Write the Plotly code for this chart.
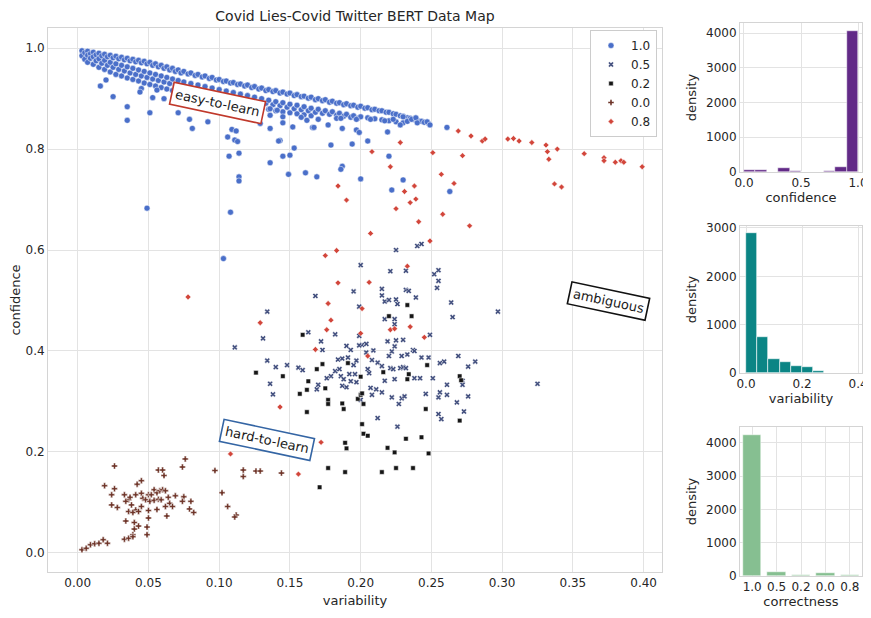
import plotly.graph_objects as go

# ---------------- data ----------------
categories = ["1.0", "0.5", "0.2", "0.0", "0.8"]

# dense "easy-to-learn" band, correctness 1.0: (variability, [confidences])
band_10 = [
    (0.003, [0.995, 0.985]), (0.005, [0.991, 0.978]), (0.007, [0.994, 0.986, 0.972]),
    (0.009, [0.989, 0.980]), (0.011, [0.992, 0.983, 0.968]), (0.013, [0.987, 0.975]),
    (0.015, [0.990, 0.979, 0.962]), (0.017, [0.985, 0.970]), (0.019, [0.988, 0.976, 0.958]),
    (0.021, [0.983, 0.966]), (0.023, [0.986, 0.972, 0.953]), (0.025, [0.981, 0.962]),
    (0.027, [0.984, 0.969, 0.948]), (0.029, [0.979, 0.958]), (0.031, [0.982, 0.966, 0.945]),
    (0.033, [0.977, 0.955]), (0.035, [0.980, 0.963, 0.941]), (0.037, [0.975, 0.951]),
    (0.039, [0.978, 0.960, 0.938]), (0.041, [0.973, 0.948]), (0.043, [0.976, 0.957, 0.935]),
    (0.045, [0.971, 0.945]), (0.047, [0.974, 0.954, 0.931]), (0.049, [0.969, 0.942]),
    (0.051, [0.972, 0.951, 0.928]), (0.053, [0.966, 0.939]), (0.055, [0.969, 0.948, 0.925]),
    (0.057, [0.963, 0.936]), (0.059, [0.966, 0.945, 0.922]), (0.061, [0.960, 0.933]),
    (0.063, [0.963, 0.942, 0.919]), (0.065, [0.957, 0.930]), (0.067, [0.960, 0.939, 0.916]),
    (0.069, [0.954, 0.927]), (0.071, [0.957, 0.936, 0.913]), (0.073, [0.951, 0.924]),
    (0.075, [0.954, 0.933, 0.910]), (0.078, [0.949, 0.921]), (0.080, [0.951, 0.930, 0.907]),
    (0.083, [0.946, 0.918]), (0.085, [0.948, 0.927, 0.904]), (0.088, [0.943, 0.915]),
    (0.090, [0.945, 0.924, 0.901]), (0.093, [0.940, 0.912]), (0.095, [0.942, 0.921, 0.898]),
    (0.098, [0.937, 0.909]), (0.100, [0.938, 0.918, 0.896]), (0.103, [0.934, 0.907]),
    (0.105, [0.935, 0.915, 0.893]), (0.108, [0.931, 0.904]), (0.110, [0.932, 0.912, 0.890]),
    (0.113, [0.928, 0.901]), (0.115, [0.929, 0.909, 0.888]), (0.118, [0.925, 0.898]),
    (0.120, [0.927, 0.906, 0.886]), (0.123, [0.922, 0.896]), (0.125, [0.924, 0.903, 0.884]),
    (0.128, [0.919, 0.893]), (0.130, [0.921, 0.900, 0.881]), (0.133, [0.916, 0.891]),
    (0.135, [0.918, 0.897, 0.879]), (0.138, [0.914, 0.888]), (0.140, [0.916, 0.894, 0.876]),
    (0.143, [0.911, 0.886]), (0.145, [0.913, 0.892, 0.874]), (0.148, [0.909, 0.883]),
    (0.150, [0.911, 0.889, 0.872]), (0.153, [0.906, 0.880]), (0.155, [0.908, 0.887, 0.870]),
    (0.158, [0.904, 0.878]), (0.160, [0.905, 0.884, 0.868]), (0.163, [0.901, 0.876]),
    (0.165, [0.903, 0.881, 0.866]), (0.168, [0.898, 0.873]), (0.170, [0.900, 0.879]),
    (0.173, [0.896, 0.871]), (0.175, [0.898, 0.876]), (0.178, [0.893, 0.869]),
    (0.180, [0.895, 0.874]), (0.183, [0.891, 0.867]), (0.185, [0.892, 0.871]),
    (0.188, [0.888, 0.865]), (0.190, [0.890, 0.869]), (0.193, [0.886, 0.863]),
    (0.195, [0.887, 0.866]), (0.198, [0.883, 0.861]), (0.200, [0.885, 0.864]),
    (0.203, [0.881]), (0.205, [0.882, 0.862]), (0.208, [0.878]), (0.210, [0.879, 0.860]),
    (0.213, [0.876]), (0.215, [0.876, 0.858]), (0.218, [0.873]), (0.220, [0.873, 0.856]),
    (0.223, [0.870]), (0.225, [0.869, 0.854]), (0.228, [0.866]), (0.230, [0.865, 0.852]),
    (0.233, [0.862]), (0.235, [0.861]), (0.238, [0.858]), (0.240, [0.857]),
    (0.243, [0.855]), (0.245, [0.853]), (0.248, [0.851]),
]

# scattered correctness-1.0 points below the band
sparse_10 = [
    (0.016, 0.925), (0.025, 0.904), (0.035, 0.884), (0.035, 0.857), (0.051, 0.872), (0.053, 0.902),
    (0.061, 0.900), (0.071, 0.872), (0.079, 0.859), (0.081, 0.841), (0.092, 0.854), (0.109, 0.839),
    (0.112, 0.836), (0.106, 0.824), (0.111, 0.818), (0.113, 0.815), (0.107, 0.786), (0.114, 0.792),
    (0.114, 0.745), (0.020, 0.937), (0.045, 0.920), (0.044, 0.913), (0.056, 0.917), (0.136, 0.841),
    (0.143, 0.817), (0.136, 0.773), (0.145, 0.786), (0.150, 0.788), (0.153, 0.802), (0.158, 0.863),
    (0.162, 0.857), (0.166, 0.843), (0.170, 0.859), (0.177, 0.848), (0.179, 0.808), (0.183, 0.861),
    (0.186, 0.861), (0.187, 0.841), (0.187, 0.766), (0.194, 0.810), (0.197, 0.859), (0.197, 0.838),
    (0.199, 0.833), (0.124, 0.861), (0.129, 0.851), (0.141, 0.877), (0.136, 0.880), (0.136, 0.867),
    (0.145, 0.864), (0.145, 0.852), (0.142, 0.816), (0.152, 0.844), (0.149, 0.750), (0.161, 0.753),
    (0.169, 0.745), (0.167, 0.843), (0.186, 0.760), (0.205, 0.816), (0.200, 0.741), (0.207, 0.859),
    (0.217, 0.856), (0.223, 0.859), (0.219, 0.834), (0.220, 0.786), (0.230, 0.864), (0.233, 0.855),
    (0.236, 0.859), (0.239, 0.862), (0.240, 0.852), (0.228, 0.848), (0.230, 0.739), (0.222, 0.719),
    (0.247, 0.854), (0.249, 0.848), (0.261, 0.843), (0.263, 0.716), (0.108, 0.675), (0.049, 0.683),
    (0.103, 0.583), (0.114, 0.737),
]

points_05 = [
    (0.252, 0.552), (0.255, 0.560), (0.255, 0.539), (0.254, 0.525), (0.264, 0.496), (0.225, 0.600),
    (0.240, 0.608), (0.243, 0.612), (0.200, 0.570), (0.221, 0.558), (0.232, 0.559), (0.195, 0.518),
    (0.215, 0.523), (0.215, 0.510), (0.217, 0.498), (0.220, 0.501), (0.225, 0.502), (0.232, 0.521),
    (0.234, 0.519), (0.239, 0.506), (0.226, 0.493), (0.168, 0.509), (0.199, 0.488), (0.217, 0.463),
    (0.224, 0.463), (0.224, 0.453), (0.265, 0.467), (0.297, 0.478), (0.134, 0.478), (0.131, 0.425),
    (0.111, 0.407), (0.163, 0.437), (0.182, 0.433), (0.172, 0.419), (0.173, 0.402), (0.199, 0.430),
    (0.219, 0.419), (0.225, 0.421), (0.230, 0.422), (0.249, 0.432), (0.190, 0.410), (0.193, 0.402),
    (0.201, 0.412), (0.204, 0.414), (0.209, 0.401), (0.204, 0.397), (0.224, 0.409), (0.222, 0.399),
    (0.237, 0.402), (0.238, 0.400), (0.220, 0.390), (0.229, 0.390), (0.233, 0.393), (0.243, 0.387),
    (0.248, 0.387), (0.269, 0.390), (0.281, 0.379), (0.276, 0.369), (0.259, 0.379), (0.256, 0.376),
    (0.134, 0.381), (0.140, 0.368), (0.148, 0.372), (0.156, 0.367), (0.159, 0.362), (0.184, 0.383),
    (0.187, 0.385), (0.191, 0.387), (0.195, 0.372), (0.197, 0.381), (0.208, 0.382), (0.212, 0.377),
    (0.215, 0.370), (0.182, 0.360), (0.185, 0.364), (0.179, 0.350), (0.186, 0.350), (0.188, 0.344),
    (0.192, 0.354), (0.196, 0.354), (0.205, 0.364), (0.206, 0.356), (0.221, 0.366), (0.223, 0.364),
    (0.228, 0.366), (0.230, 0.368), (0.232, 0.366), (0.238, 0.346), (0.242, 0.346), (0.251, 0.346),
    (0.176, 0.346), (0.136, 0.335), (0.138, 0.314), (0.170, 0.333), (0.169, 0.324), (0.187, 0.331),
    (0.190, 0.328), (0.193, 0.340), (0.197, 0.338), (0.207, 0.327), (0.211, 0.324), (0.215, 0.318),
    (0.208, 0.313), (0.217, 0.341), (0.224, 0.344), (0.222, 0.308), (0.229, 0.306), (0.231, 0.310),
    (0.227, 0.295), (0.246, 0.315), (0.256, 0.318), (0.255, 0.308), (0.261, 0.313), (0.261, 0.333),
    (0.272, 0.341), (0.272, 0.333), (0.268, 0.298), (0.276, 0.310), (0.273, 0.280), (0.255, 0.275),
    (0.257, 0.265), (0.212, 0.267), (0.226, 0.250), (0.200, 0.303), (0.199, 0.411), (0.325, 0.335),
]

points_02 = [
    (0.159, 0.432), (0.169, 0.364), (0.173, 0.374), (0.191, 0.376), (0.126, 0.357), (0.145, 0.350),
    (0.163, 0.340), (0.157, 0.315), (0.162, 0.323), (0.175, 0.326), (0.177, 0.303), (0.177, 0.295),
    (0.187, 0.296), (0.188, 0.285), (0.198, 0.305), (0.200, 0.313), (0.201, 0.316), (0.202, 0.295),
    (0.200, 0.349), (0.220, 0.469), (0.236, 0.469), (0.233, 0.491), (0.216, 0.358), (0.233, 0.344),
    (0.234, 0.354), (0.247, 0.372), (0.270, 0.350), (0.271, 0.342), (0.246, 0.285), (0.270, 0.262),
    (0.162, 0.279), (0.201, 0.255), (0.202, 0.236), (0.205, 0.232), (0.189, 0.218), (0.190, 0.207),
    (0.219, 0.208), (0.224, 0.199), (0.232, 0.226), (0.243, 0.229), (0.248, 0.197), (0.177, 0.168),
    (0.225, 0.168), (0.237, 0.168), (0.189, 0.160), (0.215, 0.160), (0.171, 0.130),
]

points_00 = [
    (0.076, 0.186), (0.074, 0.170), (0.097, 0.163), (0.117, 0.164), (0.117, 0.151), (0.126, 0.162),
    (0.129, 0.162), (0.144, 0.158), (0.102, 0.119), (0.106, 0.092), (0.112, 0.075), (0.111, 0.071),
    (0.075, 0.111), (0.074, 0.102), (0.080, 0.102), (0.079, 0.087), (0.082, 0.080), (0.026, 0.172),
    (0.057, 0.164), (0.060, 0.164), (0.061, 0.153), (0.019, 0.133), (0.026, 0.127), (0.042, 0.136),
    (0.045, 0.143), (0.024, 0.115), (0.033, 0.115), (0.036, 0.105), (0.034, 0.102), (0.037, 0.110),
    (0.041, 0.115), (0.045, 0.118), (0.046, 0.108), (0.050, 0.115), (0.052, 0.115), (0.054, 0.125),
    (0.056, 0.119), (0.058, 0.123), (0.060, 0.125), (0.062, 0.123), (0.048, 0.105), (0.051, 0.102),
    (0.054, 0.104), (0.057, 0.106), (0.059, 0.105), (0.064, 0.110), (0.069, 0.113), (0.065, 0.098),
    (0.024, 0.095), (0.028, 0.090), (0.038, 0.095), (0.041, 0.085), (0.045, 0.092), (0.036, 0.082),
    (0.039, 0.080), (0.043, 0.082), (0.050, 0.084), (0.056, 0.086), (0.062, 0.092), (0.063, 0.073),
    (0.067, 0.092), (0.050, 0.069), (0.049, 0.051), (0.049, 0.036), (0.034, 0.063), (0.040, 0.060),
    (0.043, 0.053), (0.040, 0.047), (0.039, 0.036), (0.033, 0.027), (0.036, 0.029), (0.039, 0.032),
    (0.003, 0.006), (0.006, 0.009), (0.009, 0.016), (0.012, 0.018), (0.015, 0.019), (0.018, 0.026),
    (0.021, 0.019),
]

points_08 = [
    (0.228, 0.813), (0.208, 0.795), (0.251, 0.793), (0.221, 0.765), (0.257, 0.750), (0.184, 0.727),
    (0.190, 0.699), (0.238, 0.727), (0.231, 0.716), (0.239, 0.701), (0.235, 0.694), (0.225, 0.682),
    (0.258, 0.671), (0.269, 0.836), (0.278, 0.826), (0.286, 0.816), (0.288, 0.820), (0.272, 0.787),
    (0.266, 0.732), (0.277, 0.648), (0.249, 0.618), (0.304, 0.820), (0.308, 0.821), (0.312, 0.816),
    (0.321, 0.813), (0.331, 0.808), (0.332, 0.795), (0.333, 0.780), (0.339, 0.800), (0.337, 0.731),
    (0.342, 0.725), (0.358, 0.791), (0.372, 0.783), (0.372, 0.777), (0.380, 0.774), (0.384, 0.777),
    (0.386, 0.774), (0.399, 0.765), (0.241, 0.656), (0.207, 0.633), (0.183, 0.599), (0.175, 0.589),
    (0.233, 0.568), (0.206, 0.536), (0.184, 0.535), (0.177, 0.494), (0.201, 0.484), (0.179, 0.461),
    (0.129, 0.456), (0.176, 0.442), (0.200, 0.435), (0.221, 0.442), (0.224, 0.444), (0.235, 0.448),
    (0.245, 0.427), (0.168, 0.403), (0.205, 0.390), (0.143, 0.289), (0.172, 0.219), (0.108, 0.196),
    (0.156, 0.156), (0.078, 0.507),
]

# histograms
conf_bin_edges = [0.0, 0.1, 0.2, 0.3, 0.4, 0.5, 0.6, 0.7, 0.8, 0.9]
conf_counts = [55, 55, 0, 115, 30, 0, 0, 15, 145, 4050]
var_bin_edges = [0.0, 0.04, 0.08, 0.12, 0.16, 0.20, 0.24, 0.28, 0.32, 0.36]
var_counts = [2890, 750, 290, 220, 140, 120, 35, 5, 3, 3]
corr_labels = ["1.0", "0.5", "0.2", "0.0", "0.8"]
corr_counts = [4250, 110, 30, 80, 30]

# ---------------- styling ----------------
colors = {"1.0": "#4a6fc9", "0.5": "#424f7e", "0.2": "#161616", "0.0": "#6e3428", "0.8": "#d2463b"}
symbols = {"1.0": "circle", "0.5": "x", "0.2": "square", "0.0": "cross", "0.8": "diamond"}
sizes = {"1.0": 6, "0.5": 5, "0.2": 4.5, "0.0": 5, "0.8": 4.5}
FONT = "DejaVu Sans"
TXT = "#262626"
GRID = "#e3e3e3"
SPINE = "#d4d4d4"
PAGE_OFFSET = 8          # default body margin of the html page
W, H = 871 - PAGE_OFFSET, 618 - PAGE_OFFSET


def px_x(p):
    return (p - PAGE_OFFSET) / W


def px_y(p):
    return 1 - (p - PAGE_OFFSET) / H


x10 = [v for v, cs in band_10 for _ in cs] + [p[0] for p in sparse_10]
y10 = [c for v, cs in band_10 for c in cs] + [p[1] for p in sparse_10]
series = {
    "1.0": (x10, y10),
    "0.5": ([p[0] for p in points_05], [p[1] for p in points_05]),
    "0.2": ([p[0] for p in points_02], [p[1] for p in points_02]),
    "0.0": ([p[0] for p in points_00], [p[1] for p in points_00]),
    "0.8": ([p[0] for p in points_08], [p[1] for p in points_08]),
}

fig = go.Figure()
for cat in categories:
    xs, ys = series[cat]
    fig.add_trace(go.Scatter(
        x=xs, y=ys, mode="markers", name=cat, xaxis="x", yaxis="y",
        marker=dict(color=colors[cat], symbol=symbols[cat], size=sizes[cat],
                    line=dict(color="white", width=0.5)),
    ))

# histograms
fig.add_trace(go.Bar(
    x=[e + 0.05 for e in conf_bin_edges], y=conf_counts, width=0.1,
    marker=dict(color="#622a87", line=dict(color="white", width=0.5)),
    xaxis="x2", yaxis="y2", showlegend=False))
fig.add_trace(go.Bar(
    x=[e + 0.02 for e in var_bin_edges], y=var_counts, width=0.04,
    marker=dict(color="#0b8585", line=dict(color="white", width=0.6)),
    xaxis="x3", yaxis="y3", showlegend=False))
fig.add_trace(go.Bar(
    x=corr_labels, y=corr_counts, width=0.75,
    marker=dict(color="#86bf91", line=dict(color="white", width=0.5)),
    xaxis="x4", yaxis="y4", showlegend=False))


def ax(**kw):
    base = dict(showgrid=True, gridcolor=GRID, gridwidth=1, zeroline=False,
                showline=True, linecolor=SPINE, linewidth=1, mirror=True,
                ticks="", automargin=False,
                tickfont=dict(family=FONT, size=12, color=TXT),
                title_font=dict(family=FONT, size=13, color=TXT))
    base.update(kw)
    return base


hx = [px_x(740), px_x(862)]
fig.update_layout(
    width=W, height=H, autosize=False,
    margin=dict(l=0, r=0, t=0, b=0, autoexpand=False),
    paper_bgcolor="white", plot_bgcolor="white",
    font=dict(family=FONT, color=TXT),
    title=dict(text="Covid Lies-Covid Twitter BERT Data Map", x=px_x(355), xanchor="center",
               y=px_y(11), yanchor="top", font=dict(family=FONT, size=14, color=TXT)),
    xaxis=ax(domain=[px_x(48), px_x(662)], range=[-0.021, 0.413],
             tickvals=[0.0, 0.05, 0.10, 0.15, 0.20, 0.25, 0.30, 0.35, 0.40], tickformat=".2f",
             title=dict(text="variability", standoff=6)),
    yaxis=ax(domain=[px_y(572), px_y(28)], range=[-0.038, 1.040],
             tickvals=[0.0, 0.2, 0.4, 0.6, 0.8, 1.0], tickformat=".1f",
             title=dict(text="confidence", standoff=8)),
    xaxis2=ax(domain=hx, range=[-0.035, 1.035], anchor="y2",
              tickvals=[0.0, 0.5, 1.0], tickformat=".1f",
              title=dict(text="confidence", standoff=2)),
    yaxis2=ax(domain=[px_y(172), px_y(23)], range=[0, 4290], anchor="x2",
              tickvals=[0, 1000, 2000, 3000, 4000],
              title=dict(text="density", standoff=6)),
    xaxis3=ax(domain=hx, range=[-0.0214, 0.414], anchor="y3",
              tickvals=[0.0, 0.2, 0.4], tickformat=".1f",
              title=dict(text="variability", standoff=2)),
    yaxis3=ax(domain=[px_y(373), px_y(226)], range=[0, 3041], anchor="x3",
              tickvals=[0, 1000, 2000, 3000],
              title=dict(text="density", standoff=6)),
    xaxis4=ax(domain=hx, range=[-0.5, 4.5], anchor="y4", type="category",
              categoryorder="array", categoryarray=corr_labels,
              title=dict(text="correctness", standoff=2)),
    yaxis4=ax(domain=[px_y(576), px_y(427)], range=[0, 4481], anchor="x4",
              tickvals=[0, 1000, 2000, 3000, 4000],
              title=dict(text="density", standoff=6)),
    legend=dict(x=px_x(657), xanchor="right", y=px_y(30), yanchor="top",
                bgcolor="white", bordercolor="#cccccc", borderwidth=1,
                font=dict(family=FONT, size=12, color=TXT), itemwidth=30,
                tracegroupgap=0),
    bargap=0,
)

box_font = dict(family=FONT, size=13, color="#1a1a1a")
for text, xv, yv, edge in [("easy-to-learn", 0.099, 0.891, "#c0392b"),
                           ("hard-to-learn", 0.134, 0.224, "#3465a4"),
                           ("ambiguous", 0.375, 0.499, "#111111")]:
    fig.add_annotation(x=xv, y=yv, xref="x", yref="y", text=text, showarrow=False,
                       textangle=12, font=box_font, bgcolor="white",
                       bordercolor=edge, borderwidth=1.6, borderpad=3)

fig.write_html("out.html")
